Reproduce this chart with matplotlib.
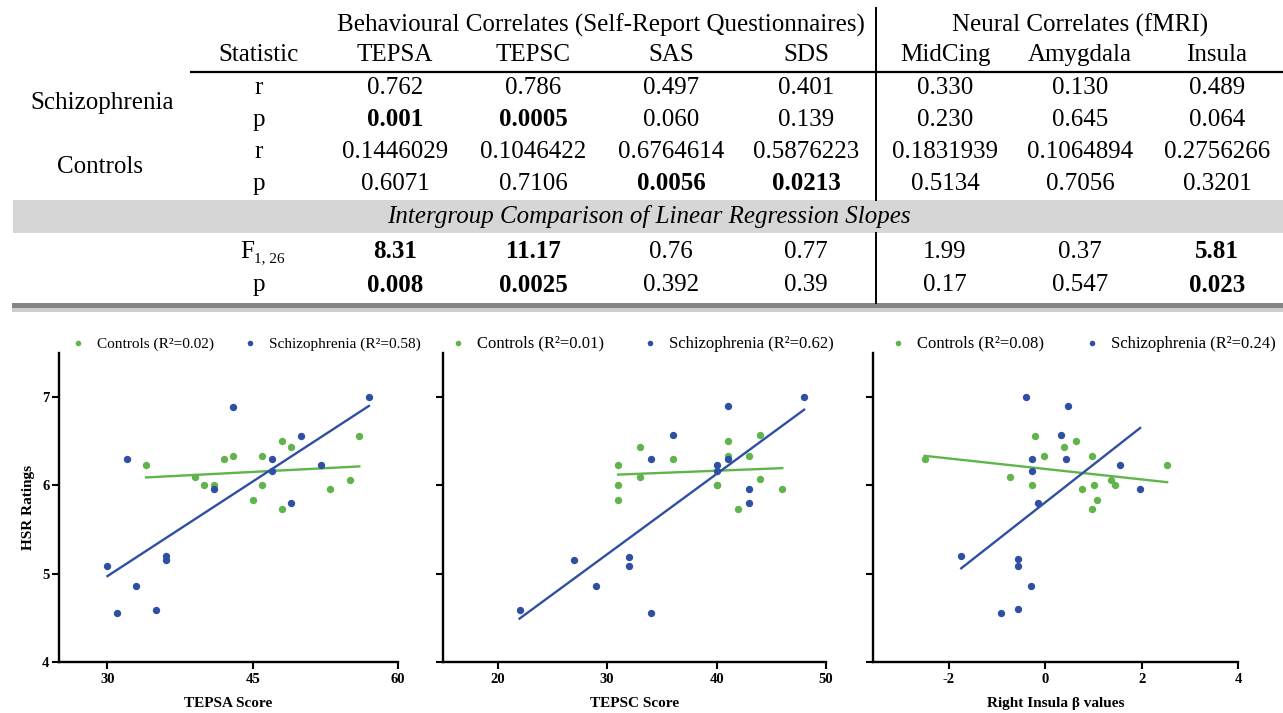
import numpy as np
import matplotlib
matplotlib.use("Agg")
import matplotlib.pyplot as plt
from matplotlib.patches import Rectangle

plt.rcParams['font.family'] = ['Liberation Serif', 'DejaVu Serif']
plt.rcParams['axes.unicode_minus'] = False

# ---------------- table data ----------------
col_groups = ["Behavioural Correlates (Self-Report Questionnaires)", "Neural Correlates (fMRI)"]
columns = ["TEPSA", "TEPSC", "SAS", "SDS", "MidCing", "Amygdala", "Insula"]
schiz_r = ["0.762", "0.786", "0.497", "0.401", "0.330", "0.130", "0.489"]
schiz_p = ["0.001", "0.0005", "0.060", "0.139", "0.230", "0.645", "0.064"]
ctrl_r = ["0.1446029", "0.1046422", "0.6764614", "0.5876223", "0.1831939", "0.1064894", "0.2756266"]
ctrl_p = ["0.6071", "0.7106", "0.0056", "0.0213", "0.5134", "0.7056", "0.3201"]
slope_F = ["8.31", "11.17", "0.76", "0.77", "1.99", "0.37", "5.81"]
slope_p = ["0.008", "0.0025", "0.392", "0.39", "0.17", "0.547", "0.023"]
schiz_p_bold = [True, True, False, False, False, False, False]
ctrl_p_bold = [False, False, True, True, False, False, False]
slope_bold = [True, True, False, False, False, False, True]

# ---------------- scatter data ----------------
# Panel 1: TEPSA
tepsa_scz = [30, 31, 32, 33, 35, 36, 36, 41, 43, 47, 47, 49, 50, 52, 57]
hsr_scz_1 = [5.09, 4.56, 6.30, 4.86, 4.59, 5.20, 5.16, 5.96, 6.89, 6.30, 6.16, 5.80, 6.56, 6.23, 7.00]
tepsa_ctl = [34, 39, 40, 41, 42, 43, 45, 46, 46, 48, 48, 49, 53, 55, 56]
hsr_ctl_1 = [6.23, 6.09, 6.00, 6.00, 6.30, 6.33, 5.83, 6.33, 6.00, 6.50, 5.73, 6.43, 5.96, 6.06, 6.56]
# Panel 2: TEPSC
tepsc_scz = [22, 27, 29, 32, 32, 34, 34, 36, 40, 40, 41, 41, 43, 43, 48]
hsr_scz_2 = [4.59, 5.16, 4.86, 5.19, 5.09, 6.30, 4.56, 6.57, 6.23, 6.16, 6.90, 6.30, 5.96, 5.80, 7.00]
tepsc_ctl = [31, 31, 31, 33, 33, 36, 40, 40, 41, 41, 42, 43, 44, 44, 46]
hsr_ctl_2 = [6.23, 6.00, 5.83, 6.43, 6.10, 6.30, 6.00, 6.00, 6.50, 6.33, 5.73, 6.33, 6.57, 6.07, 5.96]
# Panel 3: Right insula beta
ins_scz = [-1.74, -0.91, -0.56, -0.56, -0.56, -0.39, -0.30, -0.27, -0.27, -0.15, 0.33, 0.44, 0.47, 1.56, 1.97]
hsr_scz_3 = [5.20, 4.56, 5.17, 5.09, 4.60, 7.00, 4.86, 6.30, 6.16, 5.80, 6.57, 6.30, 6.90, 6.23, 5.96]
ins_ctl = [-2.50, -0.72, -0.28, -0.20, -0.02, 0.39, 0.64, 0.77, 0.98, 0.97, 1.02, 1.07, 1.36, 1.45, 2.53]
hsr_ctl_3 = [6.30, 6.10, 6.00, 6.56, 6.33, 6.43, 6.50, 5.96, 6.33, 5.73, 6.00, 5.83, 6.06, 6.00, 6.23]

r2_ctl = ["0.02", "0.01", "0.08"]
r2_scz = ["0.58", "0.62", "0.24"]
xlabels = ["TEPSA Score", "TEPSC Score", "Right Insula \u03b2 values"]
xlims = [(25, 60), (15, 50), (-3.57, 4)]
xticks = [[30, 45, 60], [20, 30, 40, 50], [-2, 0, 2, 4]]
yticks = [4, 5, 6, 7]

GREEN = "#5FB44B"
BLUE = "#2F4FA2"

W, H = 1283, 713
fig = plt.figure(figsize=(W / 100, H / 100), dpi=100)

# overlay axes in pixel coordinates for the table
tb = fig.add_axes([0, 0, 1, 1])
tb.set_xlim(0, W)
tb.set_ylim(H, 0)
tb.axis('off')

FS = 18
col_x = [395, 533, 671, 806, 945, 1080, 1217]
stat_x = 259

tb.text(601, 25, col_groups[0], ha='center', va='center', fontsize=FS)
tb.text(1080, 25, col_groups[1], ha='center', va='center', fontsize=FS)
tb.text(stat_x, 55, "Statistic", ha='center', va='center', fontsize=FS)
for x, c in zip(col_x, columns):
    tb.text(x, 55, c, ha='center', va='center', fontsize=FS)

# lines and bands
tb.plot([190, W], [72, 72], color='black', lw=1.6, solid_capstyle='butt')
tb.plot([876, 876], [8, 200], color='black', lw=1.4)
tb.plot([876, 876], [233, 303], color='black', lw=1.4)
tb.add_patch(Rectangle((13, 200), W - 13, 33, color='#d6d6d6', lw=0))
tb.add_patch(Rectangle((12, 303), W - 12, 5, color='#858585', lw=0))
tb.add_patch(Rectangle((12, 308), W - 12, 4, color='#cdcdcd', lw=0))

rows = [(88, "r", schiz_r, [False] * 7),
        (120, "p", schiz_p, schiz_p_bold),
        (152, "r", ctrl_r, [False] * 7),
        (184, "p", ctrl_p, ctrl_p_bold),
        (285, "p", slope_p, slope_bold)]
for y, lab, vals, bold in rows:
    tb.text(stat_x, y, lab, ha='center', va='center', fontsize=FS)
    for x, v, b in zip(col_x, vals, bold):
        tb.text(x, y, v, ha='center', va='center', fontsize=FS,
                fontweight='bold' if b else 'normal')
# F row
tb.text(254, 252, "F", ha='right', va='center', fontsize=FS)
tb.text(254, 259, "1, 26", ha='left', va='center', fontsize=11)
for x, v, b in zip(col_x, slope_F, slope_bold):
    tb.text(x, 252, v, ha='center', va='center', fontsize=FS,
            fontweight='bold' if b else 'normal')

tb.text(102, 103, "Schizophrenia", ha='center', va='center', fontsize=FS)
tb.text(100, 167, "Controls", ha='center', va='center', fontsize=FS)
tb.text(649, 216, "Intergroup Comparison of Linear Regression Slopes",
        ha='center', va='center', fontsize=FS, style='italic')

# ---------------- scatter panels ----------------
panels = [
    (tepsa_ctl, hsr_ctl_1, tepsa_scz, hsr_scz_1),
    (tepsc_ctl, hsr_ctl_2, tepsc_scz, hsr_scz_2),
    (ins_ctl, hsr_ctl_3, ins_scz, hsr_scz_3),
]
ax_px = [(59, 398), (443, 826), (873, 1238)]
top_px, bot_px = 353, 662
# legend layout (pixel x of the two key dots per panel)
leg_dots = [(78, 250), (458, 650), (898, 1092)]
leg_fs = [11, 12, 12]
LEG_Y = 343

for i, (xc, yc, xs, ys) in enumerate(panels):
    l, r = ax_px[i]
    ax = fig.add_axes([l / W, 1 - bot_px / H, (r - l) / W, (bot_px - top_px) / H])
    ax.set_facecolor('none')
    ax.scatter(xc, yc, s=28, color=GREEN, zorder=3, linewidths=0)
    ax.scatter(xs, ys, s=28, color=BLUE, zorder=3, linewidths=0)
    for xx, yy, col in ((xc, yc, GREEN), (xs, ys, BLUE)):
        xx = np.asarray(xx, float)
        yy = np.asarray(yy, float)
        m, b = np.polyfit(xx, yy, 1)
        xl = np.array([xx.min(), xx.max()])
        ax.plot(xl, m * xl + b, color=col, lw=1.7, zorder=2)
    ax.set_xlim(*xlims[i])
    ax.set_ylim(4, 7.5)
    ax.set_xticks(xticks[i])
    ax.set_yticks(yticks)
    for s in ('top', 'right'):
        ax.spines[s].set_visible(False)
    for s in ('left', 'bottom'):
        ax.spines[s].set_linewidth(1.7)
    ax.tick_params(direction='out', length=5, width=1.5, labelsize=10.5)
    ax.tick_params(axis='y', pad=2)
    ax.tick_params(axis='x', pad=3)
    for t in ax.get_xticklabels() + ax.get_yticklabels():
        t.set_fontweight('bold')
    if i > 0:
        ax.set_yticklabels([])
    else:
        ax.set_ylabel("HSR Ratings", fontsize=11, fontweight='bold', labelpad=5)
    ax.set_xlabel(xlabels[i], fontsize=11, fontweight='bold', labelpad=8)

    # legend row above the panel
    labels = [f"Controls (R\u00b2={r2_ctl[i]})", f"Schizophrenia (R\u00b2={r2_scz[i]})"]
    for dx, lab, col in zip(leg_dots[i], labels, (GREEN, BLUE)):
        tb.scatter([dx], [LEG_Y], s=16, color=col, linewidths=0, clip_on=False)
        tb.text(dx + 19, LEG_Y + 4.5, lab, ha='left', va='baseline',
                fontsize=leg_fs[i])

fig.savefig("out.png", dpi=100)
